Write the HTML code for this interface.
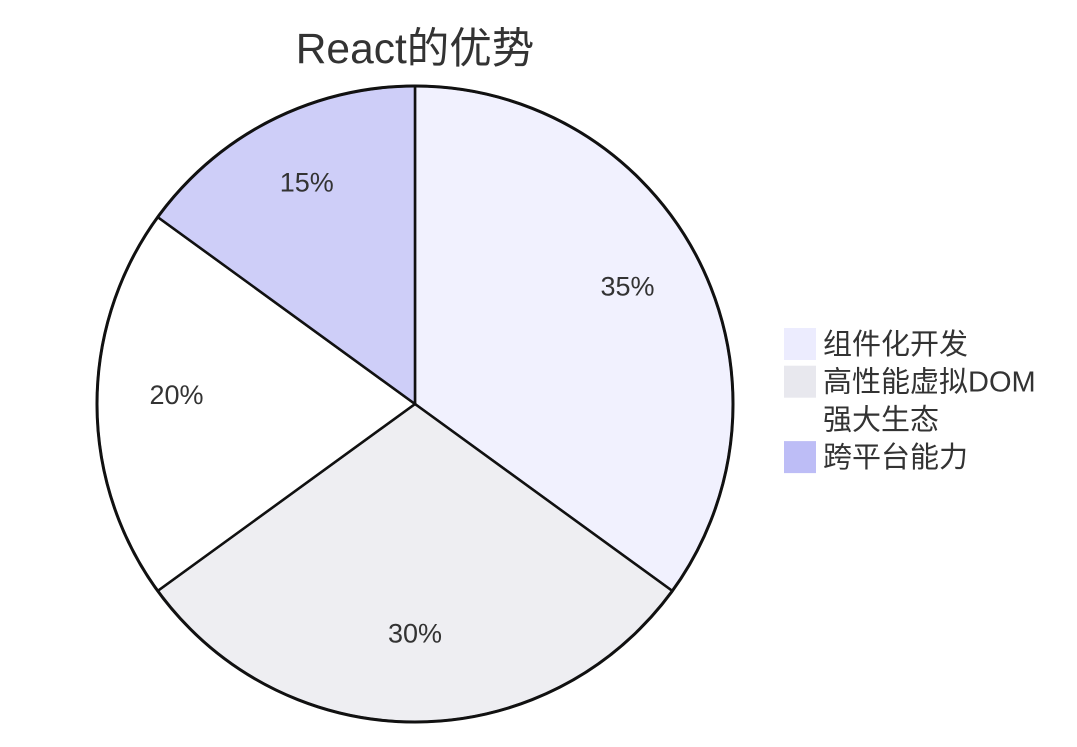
<!DOCTYPE html>
<html><head><meta charset="utf-8"><style>
body{margin:0;background:#fff;}
svg{display:block;font-family:"Liberation Sans","Noto Sans CJK SC",sans-serif;}
</style></head><body>
<svg id="chart" width="1077" height="747">
<text x="415" y="63" text-anchor="middle" font-size="42.5" fill="#333">React的优势</text>
<g id="slices"></g>
<g id="labels"></g>
<g id="legend"></g>
</svg>
<script>
const categories=["组件化开发","高性能虚拟DOM","强大生态","跨平台能力"];
const values=[35,30,20,15];
const colors=["#ececfe","#e8e8ee","#ffffff","#bdbdf6"];
const ns="http://www.w3.org/2000/svg";
const cx=415,cy=404,r=318;
const total=values.reduce((a,b)=>a+b,0);
const sg=document.getElementById('slices'),lg=document.getElementById('labels'),leg=document.getElementById('legend');
let a0=0;
values.forEach((v,i)=>{
  const a1=a0+v/total*2*Math.PI;
  const p=a=>[cx+r*Math.sin(a),cy-r*Math.cos(a)];
  const [x0,y0]=p(a0),[x1,y1]=p(a1);
  const path=document.createElementNS(ns,'path');
  path.setAttribute('d',`M${cx},${cy}L${x0},${y0}A${r},${r} 0 ${a1-a0>Math.PI?1:0} 1 ${x1},${y1}Z`);
  path.setAttribute('fill',colors[i]);path.setAttribute('fill-opacity','0.75');
  path.setAttribute('stroke','#111');path.setAttribute('stroke-width','2.5');
  
  
  sg.appendChild(path);
  const am=(a0+a1)/2;
  const t=document.createElementNS(ns,'text');
  t.setAttribute('x',cx+r*0.75*Math.sin(am));t.setAttribute('y',cy-r*0.75*Math.cos(am));
  t.setAttribute('text-anchor','middle');t.setAttribute('font-size','27');t.setAttribute('fill','#333');
  t.textContent=v+'%';
  
  
  lg.appendChild(t);
  a0=a1;
  const y=328+i*37.7;
  const rc=document.createElementNS(ns,'rect');
  rc.setAttribute('x',784);rc.setAttribute('y',y);rc.setAttribute('width',32);rc.setAttribute('height',32);
  rc.setAttribute('fill',colors[i]);
  
  
  leg.appendChild(rc);
  const lt=document.createElementNS(ns,'text');
  lt.setAttribute('x',823);lt.setAttribute('y',y+26);lt.setAttribute('font-size','29');lt.setAttribute('fill','#333');
  lt.textContent=categories[i];
  
  
  leg.appendChild(lt);
});
const c=document.createElementNS(ns,'circle');
c.setAttribute('cx',cx);c.setAttribute('cy',cy);c.setAttribute('r',r);c.setAttribute('fill','none');c.setAttribute('stroke','#111');c.setAttribute('stroke-width','3');


sg.appendChild(c);
</script>
</body></html>
